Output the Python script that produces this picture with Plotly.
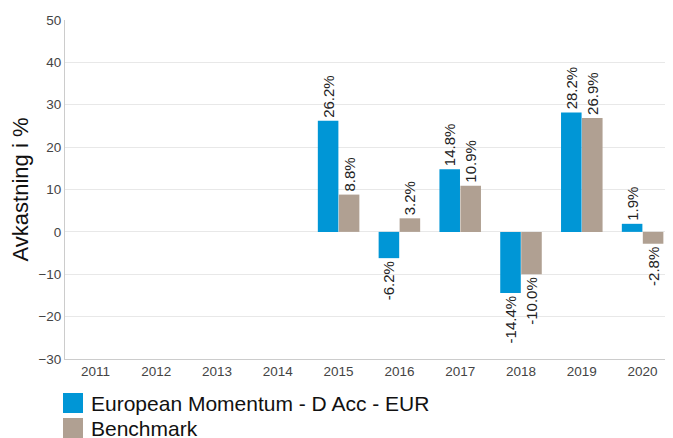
import plotly.graph_objects as go

years = ["2011", "2012", "2013", "2014", "2015", "2016", "2017", "2018", "2019", "2020"]
fund = [None, None, None, None, 26.2, -6.2, 14.8, -14.4, 28.2, 1.9]
bench = [None, None, None, None, 8.8, 3.2, 10.9, -10.0, 26.9, -2.8]
fund_name = "European Momentum - D Acc - EUR"
bench_name = "Benchmark"
y_ticks = [-30, -20, -10, 0, 10, 20, 30, 40, 50]

c_fund = "#0096D6"
c_bench = "#B0A092"
FONT = "Arial, Liberation Sans, sans-serif"

def labels(vals):
    return [("" if v is None else f"{v:.1f}%") for v in vals]

fig = go.Figure()
for name, vals, col in [(fund_name, fund, c_fund), (bench_name, bench, c_bench)]:
    fig.add_trace(go.Bar(
        x=years, y=vals, name=name, marker=dict(color=col, line=dict(width=0)),
        text=labels(vals), textposition="outside", textangle=-90,
        textfont=dict(family=FONT, size=15, color="#222"),
        cliponaxis=False, constraintext="none", showlegend=False,
    ))

# page body has an 8px offset; target page coordinates below
OFF = 8
W, H = 673 - OFF, 438 - OFF
ml, mr, mt, mb = 65 - OFF, 0, 20 - OFF, 79
pw, ph = W - ml - mr, H - mt - mb
def px(x):
    return (x - OFF - ml) / pw
def py(y):
    return (H - mb - (y - OFF)) / ph

shapes = []
annotations = []
for i, (name, col) in enumerate([(fund_name, c_fund), (bench_name, c_bench)]):
    top = 393 + 25 * i
    shapes.append(dict(type="rect", xref="paper", yref="paper",
                       x0=px(63), x1=px(83), y0=py(top), y1=py(top + 20),
                       fillcolor=col, line=dict(width=0)))
    annotations.append(dict(xref="paper", yref="paper", x=px(89), y=py(top + 10),
                            text=name, showarrow=False, xanchor="left", yanchor="middle",
                            font=dict(family=FONT, size=21, color="#111")))

fig.update_layout(
    width=W, height=H, margin=dict(l=ml, r=mr, t=mt, b=mb, autoexpand=False),
    paper_bgcolor="white", plot_bgcolor="white",
    barmode="group", bargap=0.31, bargroupgap=0.02,
    font=dict(family=FONT, color="#444"),
    shapes=shapes, annotations=annotations,
    xaxis=dict(type="category", showline=True, linecolor="#ccc", linewidth=1,
               tickfont=dict(size=13.5, color="#444"), ticks="", showgrid=False),
    yaxis=dict(range=[-30, 50], tickvals=y_ticks, showline=True, linecolor="#ccc", linewidth=1,
               gridcolor="#e8e8e8", zeroline=True, zerolinecolor="#e8e8e8", zerolinewidth=1,
               tickfont=dict(size=13.5, color="#444"), ticks="",
               title=dict(text="Avkastning i %", font=dict(size=22, color="#111"), standoff=12)),
)

fig.write_html("out.html")
